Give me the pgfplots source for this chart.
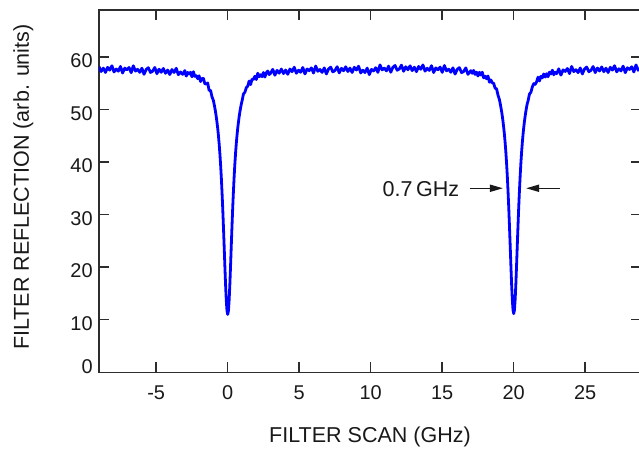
\documentclass[border=0pt]{standalone}
\usepackage{fontspec}
\setmainfont{Liberation Sans}
\usepackage{pgfplots}
\pgfplotsset{compat=1.18}
\usetikzlibrary{arrows.meta}

\definecolor{trace}{RGB}{0,0,255}
\definecolor{frame}{RGB}{45,45,45}

\newcommand{\ticksize}{\fontsize{10}{12}\selectfont}
\newcommand{\labelsize}{\fontsize{10.8}{13}\selectfont}

\begin{document}
\begin{tikzpicture}
\begin{axis}[
  scale only axis,
  width=271bp, height=181.15bp,
  xmin=-9, xmax=28.9,
  ymin=0, ymax=68.9,
  axis line style={draw=frame, line width=0.75bp},
  tick style={draw=frame, line width=0.75bp},
  tick align=inside,
  major tick length=5bp,
  xtick={-5,0,5,10,15,20,25},
  ytick={10,20,30,40,50,60},
  extra y ticks={0},
  extra y tick style={major tick length=0pt, yticklabel style={yshift=4.75bp}},
  /pgf/number format/assume math mode=true,
  xticklabel style={font=\ticksize, text=black!90, inner sep=0pt, anchor=north, yshift=-6.5bp},
  yticklabel style={font=\ticksize, text=black!90, inner sep=0pt, anchor=east, xshift=-3bp, yshift=-2bp},
  clip=true,
]
\coordinate (ll) at (rel axis cs:0,0);
\coordinate (ur) at (rel axis cs:1,1);
\coordinate (xmid) at (rel axis cs:0.5,0);
\coordinate (ymid) at (rel axis cs:0,0.5);

% filter reflection versus scan frequency: two transmission notches 20 GHz apart
\addplot[trace, line width=1.4bp, line join=round, mark=none] coordinates {
(-9.00,58.11) (-8.85,57.20) (-8.70,57.85) (-8.55,57.02) (-8.40,57.99) (-8.25,57.46)
(-8.10,58.29) (-7.95,57.11) (-7.80,57.68) (-7.65,57.27) (-7.50,58.16) (-7.35,56.92)
(-7.20,57.85) (-7.05,57.51) (-6.90,57.97) (-6.75,56.98) (-6.60,58.29) (-6.45,57.28)
(-6.30,57.62) (-6.15,57.04) (-6.00,57.84) (-5.85,56.67) (-5.70,57.59) (-5.55,57.93)
(-5.40,57.02) (-5.25,57.26) (-5.10,57.97) (-4.95,56.78) (-4.80,57.64) (-4.65,57.05)
(-4.50,57.78) (-4.35,56.86) (-4.20,57.48) (-4.05,56.63) (-3.90,57.58) (-3.75,57.02)
(-3.60,57.81) (-3.45,56.60) (-3.30,57.12) (-3.15,56.66)
(-3.0,57.37) (-2.9,56.33) (-2.8,57.03) (-2.7,56.71) (-2.6,57.06) (-2.5,56.20)
(-2.4,57.17) (-2.3,56.27) (-2.2,56.42) (-2.1,55.84) (-2.0,56.38) (-1.9,55.30)
(-1.8,55.85) (-1.7,55.92) (-1.6,54.90) (-1.5,54.81) (-1.4,55.03) (-1.3,53.60)
(-1.2,53.64) (-1.1,52.39) (-1.0,51.70)
(-0.95,51.0) (-0.90,50.3) (-0.85,49.5) (-0.80,48.6) (-0.75,47.55) (-0.70,46.4)
(-0.65,45.05) (-0.60,43.5) (-0.55,41.7) (-0.50,39.6) (-0.45,37.2) (-0.40,34.4)
(-0.35,31.3) (-0.30,27.8) (-0.25,24.1) (-0.20,20.3) (-0.15,16.7) (-0.10,13.7)
(-0.05,11.7) (0,11.0) (0.05,11.7) (0.10,13.7) (0.15,16.7) (0.20,20.3)
(0.25,24.1) (0.30,27.8) (0.35,31.3) (0.40,34.4) (0.45,37.2) (0.50,39.6)
(0.55,41.7) (0.60,43.5) (0.65,45.05) (0.70,46.4) (0.75,47.55) (0.80,48.6)
(0.85,49.5) (0.90,50.3) (0.95,51.0)
(1.0,51.57) (1.1,52.92) (1.2,53.25) (1.3,54.13) (1.4,54.42) (1.5,55.40)
(1.6,54.71) (1.7,55.76) (1.8,55.69) (1.9,56.31) (2.0,55.67) (2.1,56.88)
(2.2,56.20) (2.3,56.59) (2.4,56.23) (2.5,57.01) (2.6,56.15) (2.7,56.97)
(2.8,57.29) (2.9,56.62) (3.0,56.88)
(3.15,57.61) (3.30,56.50) (3.45,57.42) (3.60,56.89) (3.75,57.67) (3.90,56.81)
(4.05,57.48) (4.20,56.68) (4.35,57.68) (4.50,57.17) (4.65,58.02) (4.80,56.87)
(4.95,57.45) (5.10,57.06) (5.25,57.97) (5.40,56.74) (5.55,57.69) (5.70,57.36)
(5.85,57.89) (6.00,56.91) (6.15,58.24) (6.30,57.24) (6.45,57.59) (6.60,57.03)
(6.75,57.89) (6.90,56.74) (7.05,57.67) (7.20,58.03) (7.35,57.13) (7.50,57.38)
(7.65,58.11) (7.80,56.94) (7.95,57.81) (8.10,57.34) (8.25,58.10) (8.40,57.20)
(8.55,57.85) (8.70,57.02) (8.85,58.00) (9.00,57.48) (9.15,58.21) (9.30,56.94)
(9.45,57.46) (9.60,57.00) (9.75,57.85) (9.90,56.61) (10.05,57.60) (10.20,57.31)
(10.35,57.93) (10.50,57.04) (10.65,58.46) (10.80,57.51) (10.95,57.84) (11.10,57.32)
(11.25,58.23) (11.40,57.07) (11.55,58.00) (11.70,58.35) (11.85,57.44) (12.00,57.69)
(12.15,58.41) (12.30,57.24) (12.45,58.10) (12.60,57.53) (12.75,58.28) (12.90,57.37)
(13.05,58.02) (13.20,57.18) (13.35,58.16) (13.50,57.62) (13.65,58.45) (13.80,57.27)
(13.95,57.83) (14.10,57.41) (14.25,58.31) (14.40,57.01) (14.55,57.89) (14.70,57.54)
(14.85,58.04) (15.00,57.04) (15.15,58.34) (15.30,57.33) (15.45,57.65) (15.60,57.06)
(15.75,57.90) (15.90,56.71) (16.05,57.62) (16.20,57.94) (16.35,57.00) (16.50,57.21)
(16.65,57.89) (16.80,56.66)
(17.0,57.36) (17.1,56.86) (17.2,57.41) (17.3,56.64) (17.4,57.08) (17.5,56.35)
(17.6,57.04) (17.7,56.53) (17.8,57.07) (17.9,56.01) (18.0,56.31) (18.1,55.83)
(18.2,56.35) (18.3,55.16) (18.4,55.61) (18.5,55.06) (18.6,54.93) (18.7,54.03)
(18.8,53.91) (18.9,52.71) (19.0,51.85)
(19.05,51.15) (19.10,50.45) (19.15,49.65) (19.20,48.75) (19.25,47.70) (19.30,46.55)
(19.35,45.20) (19.40,43.65) (19.45,41.85) (19.50,39.75) (19.55,37.35) (19.60,34.55)
(19.65,31.45) (19.70,27.95) (19.75,24.25) (19.80,20.45) (19.85,16.85) (19.90,13.85)
(19.95,11.85) (20.00,11.15) (20.05,11.85) (20.10,13.85) (20.15,16.85) (20.20,20.45)
(20.25,24.25) (20.30,27.95) (20.35,31.45) (20.40,34.55) (20.45,37.35) (20.50,39.75)
(20.55,41.85) (20.60,43.65) (20.65,45.20) (20.70,46.55) (20.75,47.70) (20.80,48.75)
(20.85,49.65) (20.90,50.45) (20.95,51.15)
(21.0,51.57) (21.1,52.91) (21.2,53.25) (21.3,54.27) (21.4,54.91) (21.5,54.75)
(21.6,55.26) (21.7,56.13) (21.8,55.40) (21.9,56.29) (22.0,55.99) (22.1,56.74)
(22.2,56.15) (22.3,56.78) (22.4,56.21) (22.5,57.08) (22.6,56.73) (22.7,57.46)
(22.8,56.58) (22.9,57.08) (23.0,56.80)
(23.15,57.71) (23.30,56.52) (23.45,57.51) (23.60,57.21) (23.75,57.77) (23.90,56.81)
(24.05,58.16) (24.20,57.18) (24.35,57.55) (24.50,57.00) (24.65,57.88) (24.80,56.74)
(24.95,57.68) (25.10,58.05) (25.25,57.16) (25.40,57.42) (25.55,58.15) (25.70,56.99)
(25.85,57.87) (26.00,57.31) (26.15,58.07) (26.30,57.18) (26.45,57.83) (26.60,57.01)
(26.75,58.00) (26.90,57.47) (27.05,58.31) (27.20,57.14) (27.35,57.72) (27.50,57.31)
(27.65,58.22) (27.80,56.98) (27.95,57.92) (28.10,57.59) (28.25,58.11) (28.40,57.12)
(28.55,58.45) (28.70,57.45) (28.85,57.79) (29.00,57.22)
};

% linewidth marker at half depth of the second notch
\node[anchor=east, inner sep=0pt, font=\labelsize, text=black!90] at (axis cs:16.22,34.75) {0.7\,GHz};
\draw[black!90, line width=0.65bp, -{Triangle[length=6.5bp,width=3.6bp]}]
  (axis cs:16.92,35.0) -- (axis cs:19.24,35.0);
\draw[black!90, line width=0.65bp, -{Triangle[length=6.5bp,width=3.6bp]}]
  (axis cs:23.22,35.0) -- (axis cs:20.87,35.0);
\end{axis}

\node[anchor=north, inner sep=0pt, font=\labelsize, text=black!90] at ([yshift=-27.35bp]xmid) {FILTER SCAN (GHz)};
\node[anchor=base, rotate=90, inner sep=0pt, font=\labelsize, text=black!90] at ([shift={(-35bp,2bp)}]ymid) {FILTER REFLECTION (arb. units)};

\pgfresetboundingbox
\path[use as bounding box] ([shift={(-49.5bp,-38.35bp)}]ll) rectangle ([shift={(-1bp,5bp)}]ur);
\end{tikzpicture}
\end{document}
